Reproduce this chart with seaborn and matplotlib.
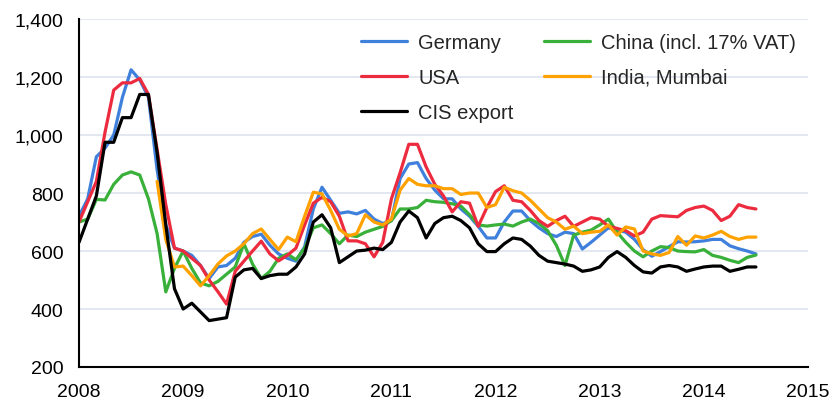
import numpy as np
import pandas as pd
import seaborn as sns
import matplotlib.pyplot as plt
from matplotlib.ticker import FuncFormatter

# monthly prices, Jan 2008 .. Jul 2014
germany = [720, 780, 925, 955, 1000, 1130, 1225, 1190, 1130, 880, 690, 610,
           600, 585, 550, 505, 545, 550, 575, 630, 650, 658, 620, 590,
           575, 565, 615, 745, 820, 775, 730, 735, 728, 740, 710, 695,
           705, 850, 900, 905, 850, 810, 780, 780, 745, 720, 685, 645,
           645, 700, 738, 738, 705, 680, 660, 650, 665, 660, 607, 630,
           655, 680, 672, 665, 640, 605, 582, 598, 615, 632, 631, 632,
           635, 640, 640, 618, 608, 600, 590]
china = [700, 710, 778, 776, 830, 862, 873, 862, 780, 660, 459, 540,
         600, 540, 490, 480, 495, 520, 545, 625, 555, 505, 530, 575,
         590, 570, 610, 680, 690, 660, 625, 655, 650, 665, 675, 685,
         705, 745, 745, 750, 775, 770, 768, 763, 755, 725, 690, 686,
         690, 693, 686, 700, 710, 695, 670, 620, 550, 655, 665, 672,
         690, 710, 665, 630, 600, 580, 600, 615, 612, 600, 598, 597,
         605, 585, 578, 568, 560, 578, 586]
usa = [700, 770, 840, 1010, 1155, 1180, 1180, 1195, 1140, 950, 760, 610,
       600, 575, 550, 500, 460, 417, 530, 565, 600, 634, 590, 566,
       585, 610, 690, 765, 785, 770, 720, 635, 635, 625, 580, 630,
       780, 870, 968, 968, 890, 830, 790, 735, 770, 765, 685, 750,
       805, 825, 775, 770, 740, 705, 685, 705, 720, 685, 700, 715,
       710, 685, 678, 670, 652, 665, 710, 722, 720, 718, 740, 750,
       755, 740, 705, 720, 760, 750, 745]
india = [np.nan] * 9 + [
         840, 640, 545,
         548, 515, 480, 515, 555, 583, 600, 625, 660, 676, 640, 605,
         648, 632, 720, 803, 797, 740, 675, 652, 660, 725, 700, 690,
         710, 810, 850, 830, 825, 825, 815, 815, 795, 800, 800, 750,
         760, 820, 808, 800, 775, 745, 715, 700, 675, 686, 660, 665,
         668, 690, 655, 683, 676, 600, 590, 585, 595, 650, 620, 652,
         645, 655, 668, 650, 640, 648, 648]
cis = [630, 710, 790, 975, 975, 1060, 1060, 1140, 1140, 940, 690, 470,
       400, 420, 390, 360, 365, 370, 510, 535, 540, 505, 515, 520,
       520, 545, 590, 700, 725, 680, 560, 580, 600, 603, 610, 605,
       630, 700, 738, 715, 645, 695, 715, 720, 705, 680, 625, 598,
       598, 625, 645, 640, 617, 585, 565, 560, 555, 548, 530, 535,
       545, 578, 598, 578, 550, 528, 524, 545, 550, 545, 530, 538,
       545, 548, 548, 530, 537, 545, 545]

years = 2008 + np.arange(len(cis)) / 12

series = {
    'Germany': (germany, '#3f80dc'),
    'China (incl. 17% VAT)': (china, '#38b03a'),
    'USA': (usa, '#ec2b3e'),
    'India, Mumbai': (india, '#ffa200'),
    'CIS export': (cis, '#000000'),
}

sns.set_style('white')
plt.rcParams['font.family'] = ['Liberation Sans', 'DejaVu Sans']

fig = plt.figure(figsize=(8.36, 4.06), dpi=100)
ax = fig.add_axes([0.0945, 0.0936, 0.872, 0.857])

lines = {}
for name, (vals, col) in series.items():
    df = pd.DataFrame({'year': years, 'price': vals})
    sns.lineplot(data=df, x='year', y='price', ax=ax, color=col,
                 linewidth=2.3, label=name)
    lines[name] = ax.get_lines()[-1]

ax.set_xlim(2008, 2015)
ax.set_ylim(200, 1400)
ax.set_xticks(range(2008, 2016))
ax.set_yticks(range(200, 1401, 200))
ax.yaxis.set_major_formatter(FuncFormatter(lambda v, p: f'{int(v):,}'))
ax.grid(axis='y', color='#dde3ee', linewidth=1.2)
ax.grid(axis='x', visible=False)
ax.set_axisbelow(True)
ax.set_xlabel('')
ax.set_ylabel('')

for s in ['top', 'right']:
    ax.spines[s].set_visible(False)
for s in ['left', 'bottom']:
    ax.spines[s].set_color('black')
    ax.spines[s].set_linewidth(1.5)

ax.tick_params(axis='x', direction='inout', length=7, width=1.2,
               labelsize=14, pad=8, colors='black')
ax.tick_params(axis='y', direction='out', length=5, width=1.2,
               labelsize=14, pad=6, colors='black')

order = ['Germany', 'USA', 'CIS export', 'China (incl. 17% VAT)', 'India, Mumbai']
ax.legend([lines[n] for n in order], order, ncol=2, frameon=False,
          loc='upper right', bbox_to_anchor=(1.0, 0.995), fontsize=14.5,
          handlelength=2.3, labelspacing=0.8, columnspacing=1.5,
          handletextpad=0.55, borderaxespad=0.2)

fig.savefig('out.png', dpi=100)
